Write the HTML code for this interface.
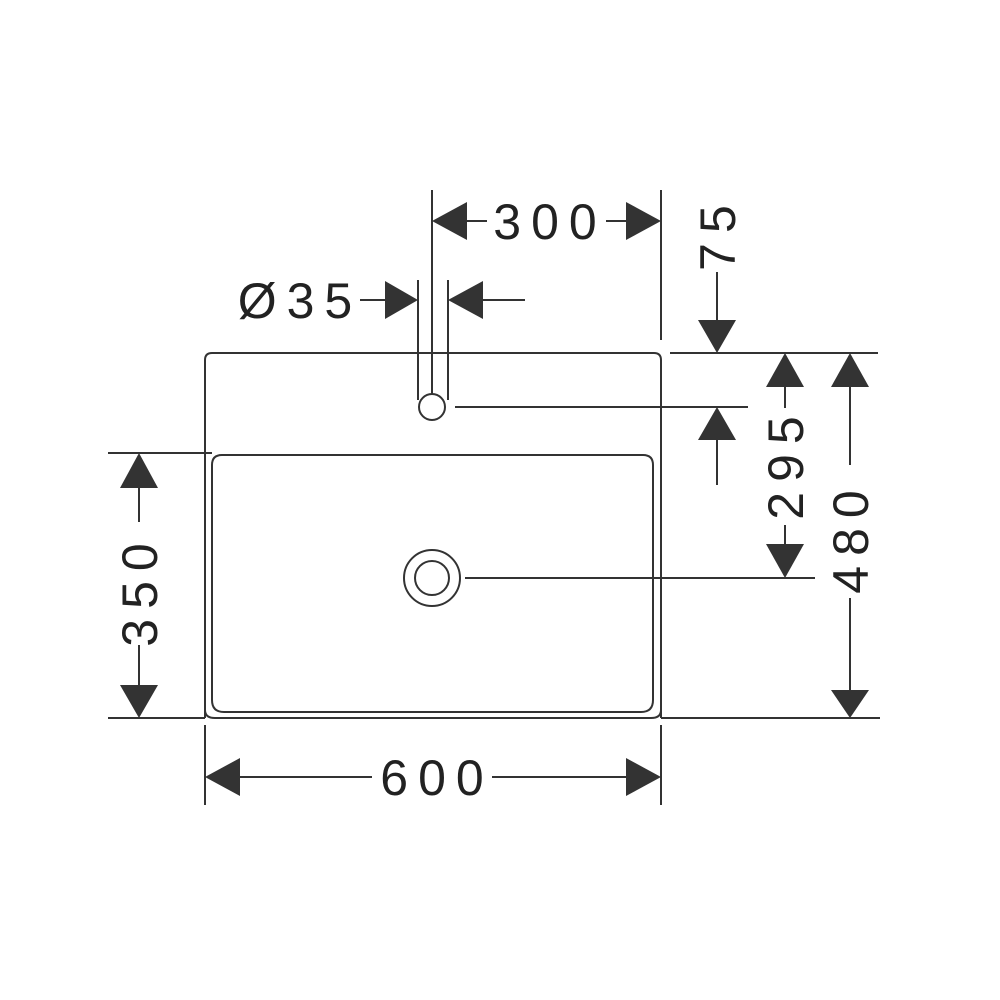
<!DOCTYPE html>
<html><head><style>body{margin:0;background:#fff}svg{display:block}</style></head><body>
<svg width="1000" height="1000" viewBox="0 0 1000 1000" xmlns="http://www.w3.org/2000/svg">
<g stroke="#333" stroke-width="2" fill="none">
<path d="M205,718 L205,360 Q205,353 212,353 L654,353 Q661,353 661,360 L661,718"/>
<path d="M205,710 Q205,718 215,718 L651,718 Q661,718 661,710"/>
<path d="M212,700 L212,465 Q212,455 222,455 L643,455 Q653,455 653,465 L653,700 Q653,712 641,712 L224,712 Q212,712 212,700 Z"/>
<circle cx="432" cy="407" r="13"/>
<circle cx="432" cy="578" r="28"/>
<circle cx="432" cy="578" r="17"/>
<line x1="432" y1="190" x2="432" y2="394"/>
<line x1="418" y1="280" x2="418" y2="400"/>
<line x1="448" y1="280" x2="448" y2="400"/>
<line x1="661" y1="190" x2="661" y2="340"/>
<line x1="670" y1="353" x2="878" y2="353"/>
<line x1="455" y1="407" x2="748" y2="407"/>
<line x1="465" y1="578" x2="815" y2="578"/>
<line x1="661" y1="718" x2="880" y2="718"/>
<line x1="108" y1="453" x2="212" y2="453"/>
<line x1="108" y1="718" x2="205" y2="718"/>
<line x1="205" y1="725" x2="205" y2="805"/>
<line x1="661" y1="725" x2="661" y2="805"/>
<line x1="467" y1="221" x2="487" y2="221"/><line x1="606" y1="221" x2="626" y2="221"/>
<line x1="360" y1="300" x2="385" y2="300"/><line x1="483" y1="300" x2="525" y2="300"/>
<line x1="240" y1="777" x2="372" y2="777"/><line x1="492" y1="777" x2="626" y2="777"/>
<line x1="717" y1="272" x2="717" y2="320"/><line x1="717" y1="440" x2="717" y2="485"/>
<line x1="785" y1="387" x2="785" y2="408"/><line x1="785" y1="525" x2="785" y2="544"/>
<line x1="850" y1="387" x2="850" y2="465"/><line x1="850" y1="598" x2="850" y2="690"/>
<line x1="139" y1="488" x2="139" y2="522"/><line x1="139" y1="645" x2="139" y2="685"/>
</g>
<g fill="#333">
<polygon points="432,221 467,202 467,240"/><polygon points="661,221 626,202 626,240"/>
<polygon points="418,300 385,281 385,319"/><polygon points="448,300 483,281 483,319"/>
<polygon points="205,777 240,758 240,796"/><polygon points="661,777 626,758 626,796"/>
<polygon points="717,353 698,320 736,320"/><polygon points="717,407 698,440 736,440"/>
<polygon points="785,353 766,387 804,387"/><polygon points="785,578 766,544 804,544"/>
<polygon points="850,353 831,387 869,387"/><polygon points="850,718 831,690 869,690"/>
<polygon points="139,453 120,488 158,488"/><polygon points="139,718 120,685 158,685"/>
</g>
<g font-family="Liberation Sans, sans-serif" font-size="50" fill="#222" letter-spacing="10" text-anchor="middle">
<text x="550" y="239">300</text>
<text x="300" y="318">Ø35</text>
<text x="437" y="795">600</text>
<text transform="translate(735,233) rotate(-90)">75</text>
<text transform="translate(803,463) rotate(-90)">295</text>
<text transform="translate(868,537) rotate(-90)">480</text>
<text transform="translate(157,590) rotate(-90)">350</text>
</g>
</svg>
</body></html>
